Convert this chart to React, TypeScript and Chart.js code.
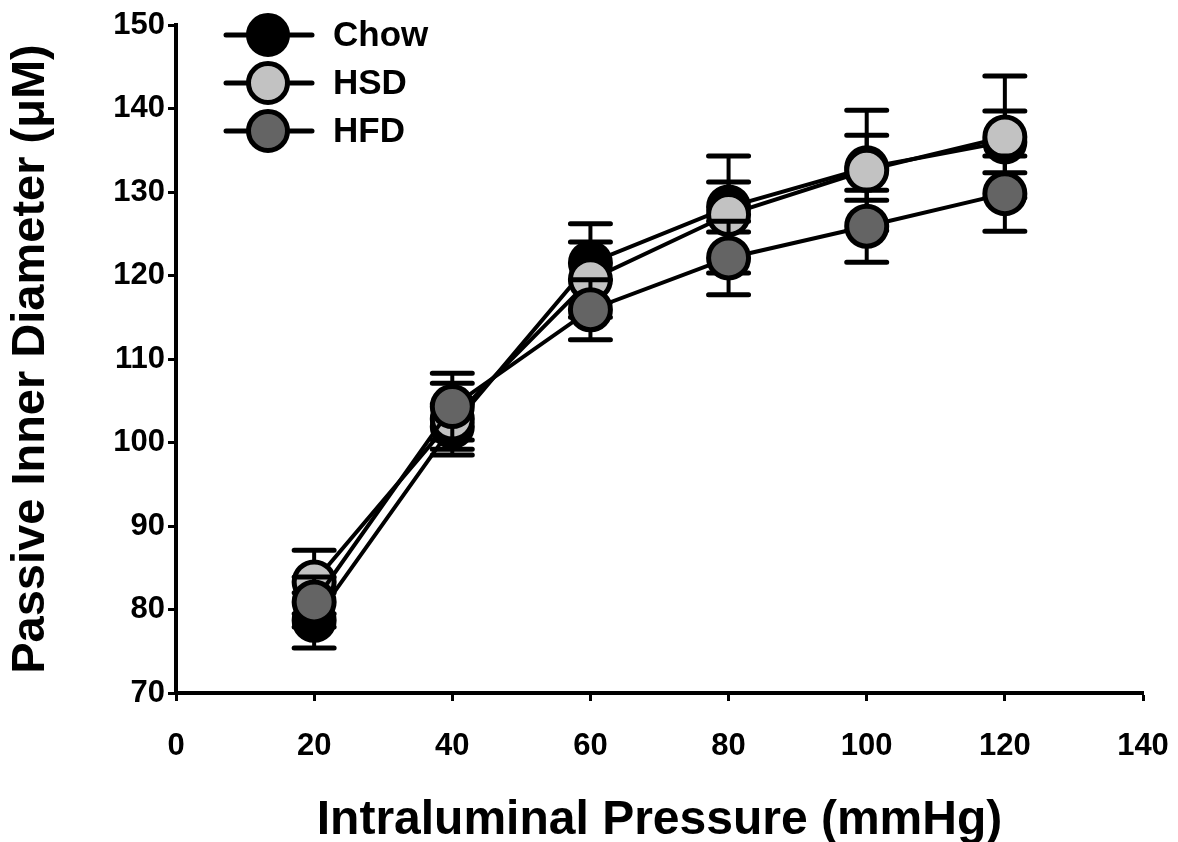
import React, { useEffect, useRef } from "react";
import { Chart, registerables } from "chart.js";

Chart.register(...registerables);

const pressures = [20, 40, 60, 80, 100, 120];
const chowMean = [78.7, 101.9, 121.5, 128.2, 132.9, 136.0];
const chowErr = [3.3, 2.7, 4.7, 3.0, 3.9, 3.7];
const hsdMean = [83.3, 102.8, 119.5, 127.3, 132.6, 136.6];
const hsdErr = [3.8, 4.3, 4.5, 7.0, 7.2, 7.3];
const hfdMean = [80.9, 104.3, 115.9, 122.1, 125.9, 129.8];
const hfdErr = [3.0, 4.0, 3.6, 4.4, 4.3, 4.5];
const seriesNames = ["Chow", "HSD", "HFD"];
const seriesFills = ["#000000", "#c2c2c2", "#646464"];

const FONT = "'Liberation Sans', Arial, sans-serif";

const errorBarPlugin = {
  id: "errorBars",
  beforeDatasetDraw(chart: any, args: any) {
    const ds = chart.data.datasets[args.index];
    const errs: number[] = ds.errorBars;
    if (!errs) return;
    const xs = chart.scales.x;
    const ys = chart.scales.y;
    const ctx = chart.ctx;
    ctx.save();
    ctx.strokeStyle = "#000";
    ds.data.forEach((p: any, i: number) => {
      const px = xs.getPixelForValue(p.x);
      const top = ys.getPixelForValue(p.y + errs[i]);
      const bot = ys.getPixelForValue(p.y - errs[i]);
      ctx.lineWidth = 4;
      ctx.lineCap = "butt";
      ctx.beginPath();
      ctx.moveTo(px, top);
      ctx.lineTo(px, bot);
      ctx.stroke();
      ctx.lineWidth = 5;
      ctx.lineCap = "round";
      ctx.beginPath();
      ctx.moveTo(px - 20, top);
      ctx.lineTo(px + 20, top);
      ctx.moveTo(px - 20, bot);
      ctx.lineTo(px + 20, bot);
      ctx.stroke();
    });
    ctx.restore();
  },
};

const legendPlugin = {
  id: "customLegend",
  afterDraw(chart: any) {
    const ctx = chart.ctx;
    ctx.save();
    seriesNames.forEach((name, i) => {
      const cy = 35 + i * 48;
      ctx.strokeStyle = "#000";
      ctx.lineWidth = 5;
      ctx.lineCap = "round";
      ctx.beginPath();
      ctx.moveTo(226, cy);
      ctx.lineTo(312, cy);
      ctx.stroke();
      ctx.beginPath();
      ctx.arc(268, cy, 19.5, 0, Math.PI * 2);
      ctx.fillStyle = seriesFills[i];
      ctx.fill();
      ctx.lineWidth = 5;
      ctx.stroke();
      ctx.fillStyle = "#000";
      ctx.font = `bold 35px ${FONT}`;
      ctx.textAlign = "left";
      ctx.textBaseline = "middle";
      ctx.fillText(name, 333, cy + 1);
    });
    ctx.restore();
  },
};

function toPoints(ys: number[]) {
  return pressures.map((x, i) => ({ x, y: ys[i] }));
}

export default function App() {
  const ref = useRef<HTMLCanvasElement | null>(null);
  useEffect(() => {
    if (!ref.current) return;
    const means = [chowMean, hsdMean, hfdMean];
    const errs = [chowErr, hsdErr, hfdErr];
    const orders = [3, 2, 1];
    const chart = new Chart(ref.current, {
      type: "line",
      data: {
        datasets: seriesNames.map((name, i) => ({
          label: name,
          data: toPoints(means[i]),
          errorBars: errs[i],
          order: orders[i],
          borderColor: "#000",
          borderWidth: 4,
          backgroundColor: seriesFills[i],
          pointBackgroundColor: seriesFills[i],
          pointBorderColor: "#000",
          pointBorderWidth: 5,
          pointRadius: 20,
          pointHoverRadius: 20,
          tension: 0,
          fill: false,
          clip: false,
        })) as any,
      },
      options: {
        animation: false,
        responsive: false,
        devicePixelRatio: 1,
        layout: { padding: { top: 25, right: 35, left: 0, bottom: 0 } },
        plugins: { legend: { display: false }, tooltip: { enabled: false } },
        scales: {
          x: {
            type: "linear",
            min: 0,
            max: 140,
            ticks: {
              stepSize: 20,
              color: "#000",
              padding: 27,
              font: { family: FONT, weight: "bold", size: 31 },
            },
            grid: {
              display: true,
              drawOnChartArea: false,
              drawTicks: true,
              tickLength: 8,
              tickWidth: 3,
              tickColor: "#000",
            },
            border: { display: true, color: "#000", width: 4 },
            title: {
              display: true,
              text: "Intraluminal Pressure (mmHg)",
              color: "#000",
              font: { family: FONT, weight: "bold", size: 48 },
              padding: { top: 0, bottom: -8 },
            },
            afterFit: (s: any) => {
              s.height = 149;
              s.paddingLeft = 0;
              s.paddingRight = 0;
            },
          },
          y: {
            min: 70,
            max: 150,
            ticks: {
              stepSize: 10,
              color: "#000",
              padding: 3,
              font: { family: FONT, weight: "bold", size: 31 },
            },
            grid: {
              display: true,
              drawOnChartArea: false,
              drawTicks: true,
              tickLength: 8,
              tickWidth: 3,
              tickColor: "#000",
            },
            border: { display: true, color: "#000", width: 4 },
            title: {
              display: true,
              text: "Passive Inner Diameter (μM)",
              color: "#000",
              font: { family: FONT, weight: "bold", size: 47 },
              padding: { top: 3, bottom: 0 },
            },
            afterFit: (s: any) => {
              s.width = 176;
              s.paddingTop = 0;
              s.paddingBottom = 0;
            },
          },
        },
      } as any,
      plugins: [errorBarPlugin, legendPlugin],
    });
    return () => chart.destroy();
  }, []);
  return (
    <div style={{ position: "absolute", left: 0, top: 0, width: 1178, height: 842, background: "#fff" }}>
      <canvas ref={ref} width={1178} height={842} />
    </div>
  );
}
